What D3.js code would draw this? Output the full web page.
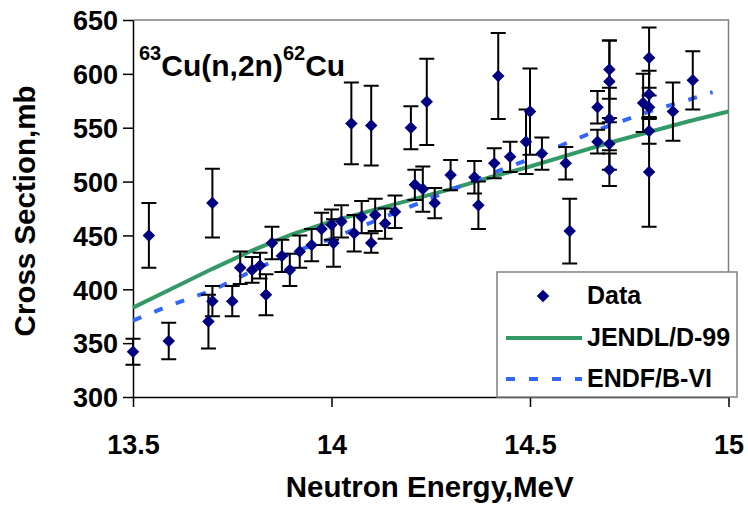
<!DOCTYPE html>
<html>
<head>
<meta charset="utf-8">
<script src="https://cdn.jsdelivr.net/npm/d3@7"></script>
<style>
  body { margin: 0; background: #fff; }
  svg text { font-family: "Liberation Sans", Arial, sans-serif; font-weight: bold; fill: #000; }
</style>
</head>
<body>
<svg id="chart" width="748" height="508"></svg>
<script>
// measured data: energy (MeV), cross section (mb), uncertainty (mb)
const energy = [13.50, 13.54, 13.59, 13.70, 13.69, 13.70, 13.75, 13.77, 13.80, 13.82,
                13.835, 13.85, 13.875, 13.895, 13.92, 13.95, 13.975, 14.00, 14.005, 14.025,
                14.05, 14.057, 14.076, 14.10, 14.10, 14.11, 14.135, 14.16, 14.20, 14.21,
                14.23, 14.24, 14.26, 14.30, 14.36, 14.37, 14.41, 14.42, 14.45, 14.49,
                14.50, 14.53, 14.59, 14.60, 14.67, 14.67, 14.70, 14.70, 14.70, 14.70,
                14.70, 14.785, 14.80, 14.80, 14.80, 14.80, 14.80, 14.86, 14.91];
const sigma  = [342, 450, 352, 480, 370, 389, 389, 420, 418, 422,
                395, 443, 431, 418, 435, 441, 456, 460, 443, 463,
                554, 452, 467, 552, 443, 469, 461, 472, 550, 497,
                493, 574, 480, 506, 504, 478, 517, 598, 523, 537,
                565, 526, 517, 454, 569, 537, 604, 593, 558, 535,
                511, 573, 615, 581, 569, 547, 509, 565, 594];
const sigmaErr = [12, 30, 17, 32, 25, 14, 14, 15, 12, 12,
                  19, 15, 15, 15, 15, 15, 15, 14, 22, 15,
                  38, 17, 15, 37, 9, 15, 14, 15, 20, 14,
                  21, 40, 14, 14, 15, 22, 14, 40, 14, 30,
                  40, 15, 15, 30, 15, 11, 27, 38, 29, 24,
                  15, 27, 28, 22, 11, 12, 51, 27, 27];

// evaluated curves
const jendlE = [13.5, 13.6, 13.7, 13.8, 13.9, 14.0, 14.1, 14.2, 14.3, 14.4, 14.5, 14.6, 14.7, 14.8, 14.9, 15.0];
const jendlS = [383, 401, 419, 436, 451, 463, 473, 483, 493, 504, 514, 525, 536, 546, 556, 565];
const endfE  = [13.5, 13.6, 13.7, 13.8, 13.9, 14.0, 14.1, 14.2, 14.3, 14.4, 14.5, 14.6, 14.7, 14.8, 14.9, 14.96];
const endfS  = [371, 386, 399, 417, 434, 447, 462, 477, 492, 507, 521, 537, 552, 565, 576, 583];

const xTicks = [13.5, 14, 14.5, 15];
const yTicks = [300, 350, 400, 450, 500, 550, 600, 650];
const legendLabels = ["Data", "JENDL/D-99", "ENDF/B-VI"];

const svg = d3.select("#chart");
const margin = { top: 20, right: 19.5, bottom: 111, left: 133 };
const width = 748 - margin.left - margin.right;
const height = 508 - margin.top - margin.bottom;

const x = d3.scaleLinear().domain([13.5, 15]).range([0, width]);
const y = d3.scaleLinear().domain([300, 650]).range([height, 0]);

const g = svg.append("g").attr("transform", `translate(${margin.left},${margin.top})`);

// frame: grey top/right, black left/bottom axes
g.append("path")
  .attr("d", `M0,0H${width}V${height}`)
  .attr("fill", "none").attr("stroke", "#808080").attr("stroke-width", 1.5);

const xAxis = g.append("g")
  .attr("transform", `translate(0,${height})`)
  .call(d3.axisBottom(x).tickValues(xTicks).tickSize(10).tickSizeOuter(0).tickFormat(d3.format("")));
xAxis.selectAll("text").attr("font-size", 27).attr("dy", "1.62em");

const yAxis = g.append("g")
  .call(d3.axisLeft(y).tickValues(yTicks).tickSize(10).tickSizeOuter(0));
yAxis.selectAll("text").attr("font-size", 27).attr("x", -15).attr("dy", "0.36em");

[xAxis, yAxis].forEach(a => {
  a.select(".domain").attr("stroke", "#000").attr("stroke-width", 1.5);
  a.selectAll(".tick line").attr("stroke", "#000").attr("stroke-width", 1.5);
  a.selectAll("text").style("font-family", "'Liberation Sans', Arial, sans-serif");
});

// curves
const line = d3.line().x(d => x(d[0])).y(d => y(d[1]));

g.append("path")
  .datum(d3.zip(jendlE, jendlS))
  .attr("d", line)
  .attr("fill", "none").attr("stroke", "#339966").attr("stroke-width", 4);

g.append("path")
  .datum(d3.zip(endfE, endfS))
  .attr("d", line)
  .attr("fill", "none").attr("stroke", "#3366ff").attr("stroke-width", 4)
  .attr("stroke-dasharray", "9,14");

// error bars
const points = energy.map((e, i) => ({ e, s: sigma[i], err: sigmaErr[i] }));
const capHalf = 7.5;

const bars = g.append("g").attr("stroke", "#000").attr("stroke-width", 2).attr("fill", "none");
bars.selectAll("path")
  .data(points)
  .enter().append("path")
  .attr("d", d => {
    const px = x(d.e), hi = y(d.s + d.err), lo = y(d.s - d.err);
    return `M${px},${hi}V${lo}M${px - capHalf},${hi}H${px + capHalf}M${px - capHalf},${lo}H${px + capHalf}`;
  });

// diamonds
const diamond = d3.symbol().type(d3.symbolSquare).size(78);
g.append("g").selectAll("path")
  .data(points)
  .enter().append("path")
  .attr("d", diamond)
  .attr("transform", d => `translate(${x(d.e)},${y(d.s)}) rotate(45)`)
  .attr("fill", "#000080");

// reaction label
const label = svg.append("text").attr("x", 139).attr("y", 76).attr("font-size", 30);
label.append("tspan").attr("font-size", 20).attr("dy", -16).text("63");
label.append("tspan").attr("dy", 16).text("Cu(n,2n)");
label.append("tspan").attr("font-size", 20).attr("dy", -16).text("62");
label.append("tspan").attr("dy", 16).text("Cu");

// axis titles
svg.append("text")
  .attr("x", margin.left + width / 2 - 1).attr("y", 497)
  .attr("text-anchor", "middle").attr("font-size", 29.5)
  .text("Neutron Energy,MeV");

svg.append("text")
  .attr("transform", "translate(35,211) rotate(-90)")
  .attr("text-anchor", "middle").attr("font-size", 29.5)
  .text("Cross Section,mb");

// legend
const legend = svg.append("g").attr("transform", "translate(497,272)");
legend.append("rect")
  .attr("width", 240).attr("height", 125)
  .attr("fill", "#fff").attr("stroke", "#808080").attr("stroke-width", 1.5);

const rowY = [24, 66, 107];
legend.append("path")
  .attr("d", diamond)
  .attr("transform", `translate(46,${rowY[0]}) rotate(45)`)
  .attr("fill", "#000080");
legend.append("line")
  .attr("x1", 9).attr("x2", 85).attr("y1", rowY[1]).attr("y2", rowY[1])
  .attr("stroke", "#339966").attr("stroke-width", 4);
legend.append("line")
  .attr("x1", 9).attr("x2", 85).attr("y1", rowY[2]).attr("y2", rowY[2])
  .attr("stroke", "#3366ff").attr("stroke-width", 4).attr("stroke-dasharray", "9,14");

legend.selectAll("text.lab")
  .data(legendLabels)
  .enter().append("text")
  .attr("class", "lab")
  .attr("x", 90).attr("y", (d, i) => rowY[i] + 8)
  .attr("font-size", 25)
  .text(d => d);
</script>
</body>
</html>
